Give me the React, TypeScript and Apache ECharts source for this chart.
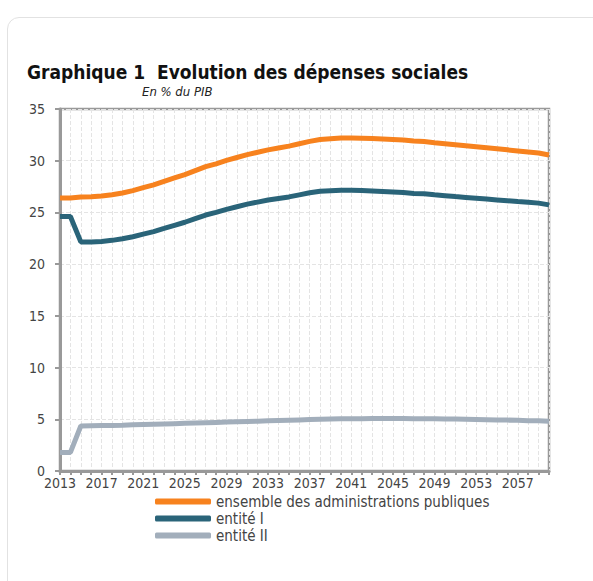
import React, { useEffect, useRef } from "react";
import * as echarts from "echarts";

const years: string[] = [];
for (let y = 2013; y <= 2060; y++) years.push(String(y));

const ensemble = [26.4, 26.4, 26.5, 26.52, 26.59, 26.71, 26.88, 27.11, 27.39, 27.67, 28.0, 28.33, 28.66, 29.04, 29.42, 29.7, 30.03, 30.31, 30.59, 30.82, 31.05, 31.23, 31.41, 31.64, 31.87, 32.05, 32.12, 32.19, 32.2, 32.18, 32.15, 32.1, 32.05, 32.0, 31.9, 31.85, 31.74, 31.65, 31.55, 31.45, 31.35, 31.25, 31.15, 31.05, 30.95, 30.85, 30.75, 30.55];
const entite1 = [24.6, 24.6, 22.15, 22.15, 22.2, 22.3, 22.45, 22.65, 22.9, 23.15, 23.45, 23.75, 24.05, 24.4, 24.75, 25.0, 25.3, 25.55, 25.8, 26.0, 26.2, 26.35, 26.5, 26.7, 26.9, 27.05, 27.1, 27.15, 27.15, 27.12, 27.08, 27.03, 26.98, 26.93, 26.84, 26.8, 26.7, 26.62, 26.53, 26.45, 26.37, 26.29, 26.21, 26.13, 26.05, 25.98, 25.9, 25.73];
const entite2 = [1.8, 1.8, 4.35, 4.37, 4.39, 4.41, 4.43, 4.46, 4.49, 4.52, 4.55, 4.58, 4.61, 4.64, 4.67, 4.7, 4.73, 4.76, 4.79, 4.82, 4.85, 4.88, 4.91, 4.94, 4.97, 5.0, 5.02, 5.04, 5.05, 5.06, 5.07, 5.07, 5.07, 5.07, 5.06, 5.05, 5.04, 5.03, 5.02, 5.0, 4.98, 4.96, 4.94, 4.92, 4.9, 4.87, 4.85, 4.82];

const names = ["ensemble des administrations publiques", "entité I", "entité II"];
const colors = ["#f7821e", "#2a6479", "#a2aebb"];

const FONT = "DejaVu Sans Condensed";

export default function App() {
  const ref = useRef<HTMLDivElement>(null);
  useEffect(() => {
    if (!ref.current) return;
    const chart = echarts.init(ref.current, undefined, { renderer: "svg" });
    const data = [ensemble, entite1, entite2];
    chart.setOption({
      animation: false,
      textStyle: { fontFamily: FONT },
      title: [
        {
          text: "Graphique 1  Evolution des dépenses sociales",
          left: 22,
          top: 57,
          textStyle: { fontFamily: FONT, fontSize: 19, fontWeight: "bold", color: "#111" },
        },
        {
          text: "En % du PIB",
          left: 137,
          top: 80,
          textStyle: { fontFamily: FONT, fontSize: 13, fontStyle: "italic", fontWeight: "normal", color: "#222" },
        },
      ],
      grid: {
        left: 60,
        right: 44,
        top: 109,
        bottom: 110,
        show: true,
        borderColor: "#999",
        borderWidth: 2.5,
      },
      legend: {
        orient: "vertical",
        left: 150,
        top: 489,
        itemWidth: 56,
        itemHeight: 6,
        itemGap: 2,
        icon: "roundRect",
        textStyle: { fontFamily: FONT, fontSize: 15, color: "#444" },
        data: names,
      },
      xAxis: {
        type: "category",
        data: years,
        boundaryGap: false,
        axisLine: { lineStyle: { color: "#999", width: 3 } },
        axisTick: { show: true, interval: 0, length: 4, lineStyle: { color: "#999", width: 2 } },
        axisLabel: { interval: 3, color: "#444", fontSize: 14, margin: 5, fontFamily: FONT },
        splitLine: { show: true, interval: 0, lineStyle: { color: "#e4e4e4", type: "dashed", width: 1 } },
      },
      yAxis: {
        type: "value",
        min: 0,
        max: 35,
        interval: 5,
        axisLine: { show: true, lineStyle: { color: "#999", width: 3 } },
        axisTick: { show: true, length: 5, lineStyle: { color: "#999", width: 2 } },
        axisLabel: { color: "#444", fontSize: 14, margin: 15, fontFamily: FONT },
        splitLine: { show: true, lineStyle: { color: "#e4e4e4", type: "dashed", width: 1 } },
      },
      series: names.map((n, i) => ({
        name: n,
        type: "line",
        data: data[i],
        symbol: "none",
        color: colors[i],
        lineStyle: { color: colors[i], width: 5 },
        z: 3 - i,
      })),
    });
    return () => chart.dispose();
  }, []);
  return (
    <div style={{ position: "absolute", left: 0, top: 0, width: 593, height: 581, overflow: "hidden", background: "#fff" }}>
      <div
        style={{
          position: "absolute",
          left: 7,
          top: 17,
          width: 640,
          height: 640,
          border: "1px solid #e2e2e2",
          borderRadius: 12,
          boxSizing: "border-box",
        }}
      />
      <div ref={ref} style={{ position: "absolute", left: 0, top: 0, width: 593, height: 581 }} />
    </div>
  );
}
